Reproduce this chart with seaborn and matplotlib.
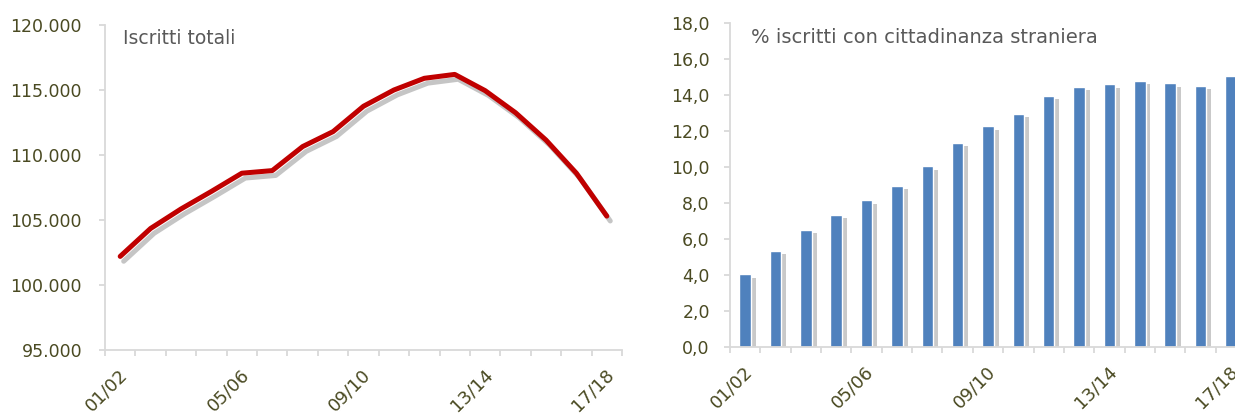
import matplotlib
matplotlib.use("Agg")
import matplotlib.pyplot as plt
import matplotlib.patheffects as pe
from matplotlib.ticker import FixedLocator, FuncFormatter
import seaborn as sns

sns.set_style("white")
plt.rcParams['font.family'] = ['DejaVu Sans']

# dati
anni = ["01/02", "02/03", "03/04", "04/05", "05/06", "06/07", "07/08", "08/09", "09/10",
        "10/11", "11/12", "12/13", "13/14", "14/15", "15/16", "16/17", "17/18"]
iscritti_totali = [102200, 104350, 105850, 107200, 108600, 108800, 110650, 111800, 113750,
                   115000, 115900, 116200, 114950, 113250, 111150, 108600, 105300]
perc_stranieri = [4.05, 5.35, 6.5, 7.35, 8.15, 8.95, 10.05, 11.35, 12.25,
                  12.95, 13.95, 14.45, 14.6, 14.8, 14.65, 14.5, 15.05]
etichette_x = ["01/02", "05/06", "09/10", "13/14", "17/18"]

W, H = 1235, 415
fig = plt.figure(figsize=(W / 100, H / 100), dpi=100)

TICK_COL = "#4a4a22"
SPINE_COL = "#d9d9d9"
TITLE_COL = "#595959"

def box(l, r, t, b):
    return [l / W, 1 - b / H, (r - l) / W, (b - t) / H]

ax1 = fig.add_axes(box(105, 622, 25, 350))
ax2 = fig.add_axes(box(730, 1246, 23, 347))

pos = list(range(len(anni)))
sns.lineplot(x=pos, y=iscritti_totali, ax=ax1, color="#c00000", linewidth=3.6,
             path_effects=[pe.SimpleLineShadow(offset=(2.5, -3.5), shadow_color="#6f6f6f", alpha=0.4),
                           pe.Normal()])
ax1.set_ylim(95000, 120000)
ax1.set_yticks(range(95000, 120001, 5000))
ax1.yaxis.set_major_formatter(FuncFormatter(lambda v, p: f"{int(v):,}".replace(",", ".")))

sns.barplot(x=anni, y=perc_stranieri, ax=ax2, color="#4f81bd", width=0.38, saturation=1)
for bar in ax2.patches:
    bar.set_path_effects([pe.SimplePatchShadow(offset=(3.5, -2.5), shadow_rgbFace="#7a7a7a", alpha=0.4),
                          pe.Normal()])
ax2.set_ylim(0, 18)
ax2.set_yticks([i * 2 for i in range(10)])
ax2.yaxis.set_major_formatter(FuncFormatter(lambda v, p: f"{v:.1f}".replace(".", ",")))

for ax, ypad in ((ax1, 12), (ax2, 10)):
    ax.set_xlim(-0.5, len(anni) - 0.5)
    ax.set_xlabel("")
    ax.set_ylabel("")
    for s in ("top", "right"):
        ax.spines[s].set_visible(False)
    for s in ("left", "bottom"):
        ax.spines[s].set_color(SPINE_COL)
        ax.spines[s].set_linewidth(1.3)
    # etichette leggermente spostate a destra come in Excel
    ax.xaxis.set_major_locator(FixedLocator([anni.index(e) + 0.15 for e in etichette_x]))
    ax.set_xticklabels(etichette_x)
    ax.xaxis.set_minor_locator(FixedLocator([i - 0.5 for i in range(len(anni) + 1)]))
    ax.tick_params(axis="x", which="major", length=0, pad=16, labelsize=13,
                   labelcolor=TICK_COL, bottom=True)
    ax.tick_params(axis="x", which="minor", length=4.5, width=1.3, color=SPINE_COL,
                   direction="out", bottom=True)
    ax.tick_params(axis="y", length=4.5, width=1.3, color=SPINE_COL, labelsize=12.5,
                   labelcolor=TICK_COL, pad=ypad, left=True, direction="out")
    plt.setp(ax.get_xticklabels(), rotation=45, ha="right", va="center", rotation_mode="anchor")
    ax.grid(False)

ax1.text(0.035, 0.96, "Iscritti totali", transform=ax1.transAxes, fontsize=13.5,
         color=TITLE_COL, va="center", ha="left")
ax2.text(0.04, 0.955, "% iscritti con cittadinanza straniera", transform=ax2.transAxes,
         fontsize=14, color=TITLE_COL, va="center", ha="left")

fig.savefig("out.png", dpi=100)
